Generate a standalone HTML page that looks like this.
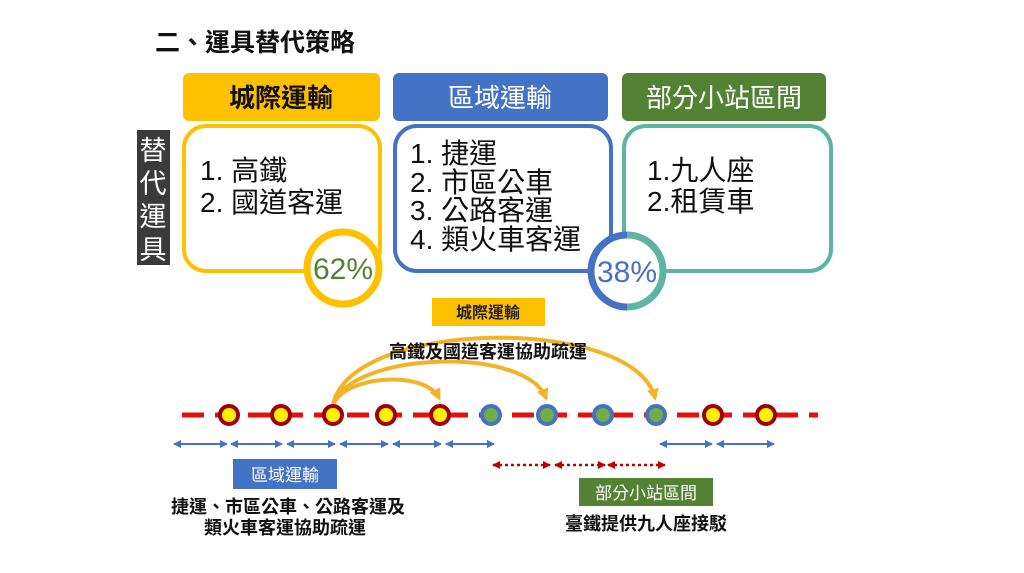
<!DOCTYPE html>
<html><head><meta charset="utf-8"><style>
body{margin:0;background:#fff;}
svg{display:block;font-family:"Liberation Sans","Noto Sans CJK TC",sans-serif;}
</style></head><body>
<svg width="1024" height="573" viewBox="0 0 1024 573" xmlns="http://www.w3.org/2000/svg">
<defs>
<marker id="ya" markerWidth="12" markerHeight="12" refX="9" refY="6" orient="auto" markerUnits="userSpaceOnUse"><path d="M0,0 L12,6 L0,12 z" fill="#F2B427"/></marker>
<marker id="ba" markerWidth="8" markerHeight="8" refX="7" refY="4" orient="auto-start-reverse" markerUnits="userSpaceOnUse"><path d="M0,0 L8,4 L0,8 z" fill="#4472C4"/></marker>
<marker id="ra" markerWidth="8" markerHeight="8" refX="7" refY="4" orient="auto-start-reverse" markerUnits="userSpaceOnUse"><path d="M0,0 L8,4 L0,8 z" fill="#C00000"/></marker>
</defs>
<text x="155" y="51" font-size="25" font-weight="bold" fill="#111">二、運具替代策略</text>
<rect x="183" y="73" width="197" height="48" rx="6" fill="#FFC000"/>
<text x="281" y="107" font-size="26" font-weight="bold" text-anchor="middle" fill="#111">城際運輸</text>
<rect x="393" y="73" width="215" height="48" rx="6" fill="#4472C4"/>
<text x="500" y="107" font-size="26" text-anchor="middle" fill="#fff">區域運輸</text>
<rect x="622" y="73" width="204" height="48" rx="6" fill="#548235"/>
<text x="724" y="107" font-size="26" text-anchor="middle" fill="#fff">部分小站區間</text>
<rect x="137" y="130" width="33" height="135" fill="#3B3B3B"/>
<text font-size="27" fill="#fff" text-anchor="middle"><tspan x="153" y="160">替</tspan><tspan x="153" y="193">代</tspan><tspan x="153" y="226">運</tspan><tspan x="153" y="259">具</tspan></text>
<rect x="184" y="126" width="196" height="145" rx="22" fill="#fff" stroke="#FFC000" stroke-width="4"/>
<rect x="395" y="126" width="216" height="145" rx="22" fill="#fff" stroke="#4472C4" stroke-width="4"/>
<rect x="624" y="126" width="207" height="145" rx="22" fill="#fff" stroke="#5BB5A2" stroke-width="4"/>
<g font-size="28" fill="#111">
<text x="200" y="180">1. 高鐵</text>
<text x="200" y="212">2. 國道客運</text>
<text x="410" y="163">1. 捷運</text>
<text x="410" y="192">2. 市區公車</text>
<text x="410" y="220">3. 公路客運</text>
<text x="410" y="249">4. 類火車客運</text>
<text x="647" y="180">1.九人座</text>
<text x="647" y="211">2.租賃車</text>
</g>
<circle cx="343" cy="268" r="36" fill="#fff" stroke="#FFC000" stroke-width="7"/>
<text x="343" y="279" font-size="30" text-anchor="middle" fill="#548235">62%</text>
<circle cx="627" cy="271" r="36" fill="#fff"/>
<path d="M627,235 A36,36 0 0 0 627,307" fill="none" stroke="#4472C4" stroke-width="7"/>
<path d="M627,235 A36,36 0 0 1 627,307" fill="none" stroke="#5BB5A2" stroke-width="7"/>
<text x="627" y="282" font-size="30" text-anchor="middle" fill="#4472C4">38%</text>
<rect x="432" y="298" width="113" height="28" fill="#FFC000"/>
<text x="488" y="318" font-size="16" font-weight="bold" text-anchor="middle" fill="#222">城際運輸</text>
<g fill="none" stroke="#F2B427" stroke-width="4">
<path d="M333,405 C345,375 425,370 439,398" marker-end="url(#ya)"/>
<path d="M333,405 C350,352 525,345 546,398" marker-end="url(#ya)"/>
<path d="M333,405 C350,318 635,315 655,398" marker-end="url(#ya)"/>
</g>
<text x="488" y="358" font-size="18" font-weight="bold" text-anchor="middle" fill="#111">高鐵及國道客運協助疏運</text>
<line x1="182" y1="415" x2="818" y2="415" stroke="#E31010" stroke-width="5" stroke-dasharray="22,11"/>
<g stroke="#A00000" stroke-width="4" fill="#FFF200">
<circle cx="229" cy="415" r="9"/><circle cx="281" cy="415" r="9"/><circle cx="333" cy="415" r="9"/><circle cx="386" cy="415" r="9"/><circle cx="440" cy="415" r="9"/><circle cx="713" cy="415" r="9"/><circle cx="766" cy="415" r="9"/>
</g>
<g stroke="#4472C4" stroke-width="4" fill="#70AD47">
<circle cx="491" cy="415" r="9"/><circle cx="547" cy="415" r="9"/><circle cx="603" cy="415" r="9"/><circle cx="656" cy="415" r="9"/>
</g>
<g stroke="#4472C4" stroke-width="2" marker-start="url(#ba)" marker-end="url(#ba)">
<line x1="174" y1="444" x2="227" y2="444"/><line x1="231" y1="444" x2="282" y2="444"/><line x1="287" y1="444" x2="335" y2="444"/><line x1="340" y1="444" x2="388" y2="444"/><line x1="393" y1="444" x2="441" y2="444"/><line x1="446" y1="444" x2="494" y2="444"/><line x1="660" y1="444" x2="712" y2="444"/><line x1="717" y1="444" x2="774" y2="444"/>
</g>
<g stroke="#C00000" stroke-width="2.5" stroke-dasharray="3,3" marker-start="url(#ra)" marker-end="url(#ra)">
<line x1="493" y1="465" x2="550" y2="465"/><line x1="555" y1="465" x2="605" y2="465"/><line x1="608" y1="465" x2="665" y2="465"/>
</g>
<rect x="233" y="459" width="104" height="30" fill="#4472C4"/>
<text x="285" y="481" font-size="17" text-anchor="middle" fill="#fff">區域運輸</text>
<text x="288" y="513" font-size="18" font-weight="bold" text-anchor="middle" fill="#111">捷運、市區公車、公路客運及</text>
<text x="285" y="534" font-size="18" font-weight="bold" text-anchor="middle" fill="#111">類火車客運協助疏運</text>
<rect x="579" y="478" width="134" height="28" fill="#548235"/>
<text x="646" y="499" font-size="17" text-anchor="middle" fill="#fff">部分小站區間</text>
<text x="646" y="530" font-size="18" font-weight="bold" text-anchor="middle" fill="#111">臺鐵提供九人座接駁</text>
</svg>
</body></html>
